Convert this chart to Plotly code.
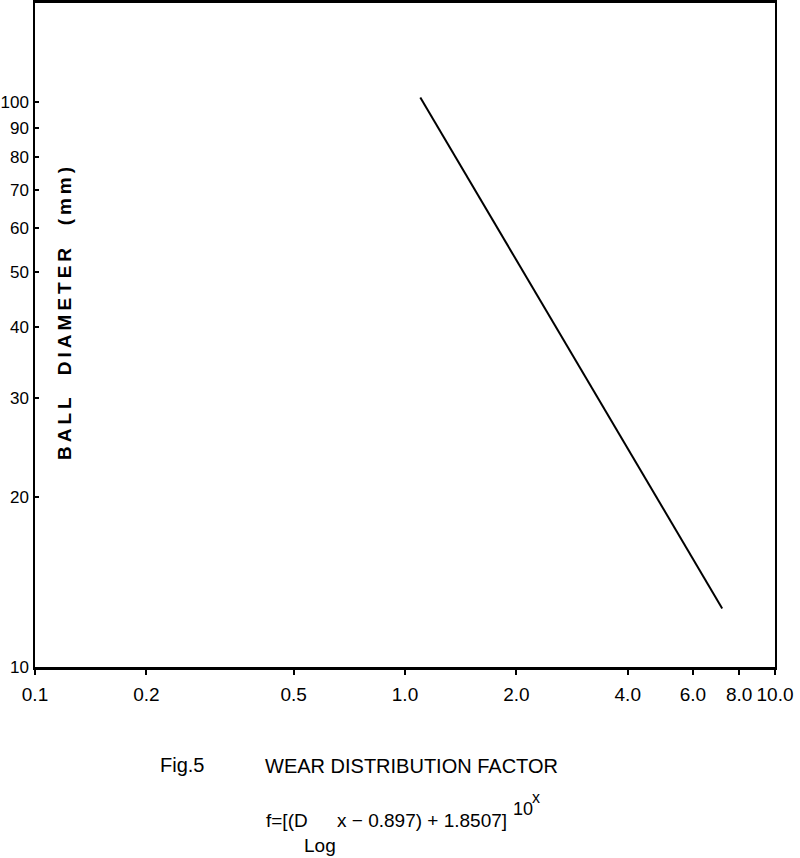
import plotly.graph_objects as go
import math

# Data
wear_factor = [1.1, 7.2]          # x values (log axis)
ball_diameter = [102, 12.7]       # y values, mm (log axis)

x_tickvals = [0.1, 0.2, 0.5, 1.0, 2.0, 4.0, 6.0, 8.0, 10.0]
x_ticktext = ["0.1", "0.2", "0.5", "1.0", "2.0", "4.0", "6.0", "8.0", "10.0"]
y_tickvals = [10, 20, 30, 40, 50, 60, 70, 80, 90, 100]
y_ticktext = ["10", "20", "30", "40", "50", "60", "70", "80", "90", "100"]

FONT = "Liberation Sans, Arial, sans-serif"


def px_x(px):
    return (px - 35) / 740


def px_y(py):
    return (667 - py) / 664


fig = go.Figure()
fig.add_trace(go.Scatter(
    x=wear_factor, y=ball_diameter, mode="lines",
    line=dict(color="black", width=2), showlegend=False,
))

fig.update_layout(
    width=800, height=858,
    margin=dict(l=35, r=25, t=3, b=191, autoexpand=False),
    paper_bgcolor="white", plot_bgcolor="white",
    font=dict(family=FONT, color="black"),
    xaxis=dict(
        type="log", range=[-1, 1], automargin=False,
        tickvals=x_tickvals, ticktext=x_ticktext,
        showline=True, linecolor="black", linewidth=3, mirror=True,
        ticks="outside", ticklen=5, tickwidth=1.5, tickcolor="black",
        showgrid=False, zeroline=False,
        tickfont=dict(size=19, family=FONT, color="black"),
        ticklabelstandoff=3,
    ),
    yaxis=dict(
        type="log", range=[1, math.log10(150)], automargin=False,
        tickvals=y_tickvals, ticktext=y_ticktext,
        showline=True, linecolor="black", linewidth=1.5, mirror=True,
        ticks="inside", ticklen=4, tickwidth=1.5, tickcolor="black",
        showgrid=False, zeroline=False,
        tickfont=dict(size=17, family=FONT, color="black"),
        ticklabelstandoff=1,
    ),
)

# Y axis title (rotated, inside the plot area)
fig.add_annotation(
    text='<span style="letter-spacing:4px">BALL  DIAMETER  (mm)</span>',
    xref="paper", yref="paper", x=px_x(64), y=px_y(312),
    showarrow=False, textangle=-90, xanchor="center", yanchor="middle",
    font=dict(size=19, family=FONT, color="black", weight="bold"),
)

# Caption lines
cap_font = dict(size=20, family=FONT, color="black")
fig.add_annotation(text="Fig.5", xref="paper", yref="paper",
                   x=px_x(158), y=px_y(765), xanchor="left", yanchor="middle",
                   showarrow=False, font=cap_font)
fig.add_annotation(text="WEAR DISTRIBUTION FACTOR", xref="paper", yref="paper",
                   x=px_x(263), y=px_y(766), xanchor="left", yanchor="middle",
                   showarrow=False, font=cap_font)

# Formula pieces
f_font = dict(size=19, family=FONT, color="black")
fig.add_annotation(text="f=[(D", xref="paper", yref="paper",
                   x=px_x(264), y=px_y(820), xanchor="left", yanchor="middle",
                   showarrow=False, font=f_font)
fig.add_annotation(text="Log", xref="paper", yref="paper",
                   x=px_x(302), y=px_y(845), xanchor="left", yanchor="middle",
                   showarrow=False, font=f_font)
fig.add_annotation(text="x − 0.897) + 1.8507]", xref="paper", yref="paper",
                   x=px_x(335), y=px_y(820), xanchor="left", yanchor="middle",
                   showarrow=False, font=f_font)
fig.add_annotation(text="10", xref="paper", yref="paper",
                   x=px_x(511), y=px_y(809), xanchor="left", yanchor="middle",
                   showarrow=False, font=dict(size=18, family=FONT, color="black"))
fig.add_annotation(text="x", xref="paper", yref="paper",
                   x=px_x(530), y=px_y(797), xanchor="left", yanchor="middle",
                   showarrow=False, font=dict(size=16, family=FONT, color="black"))

fig.write_html("out.html")
